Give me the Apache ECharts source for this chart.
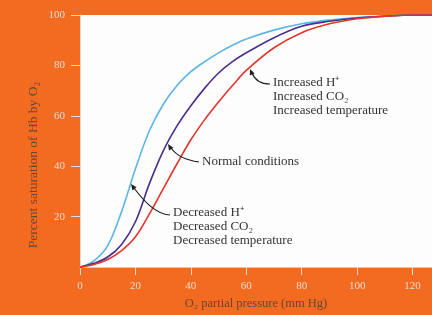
<!DOCTYPE html>
<html>
<head>
<meta charset="utf-8">
<style>
    html, body { margin: 0; padding: 0; background: #F26B21; }
    #chart { width: 432px; height: 315px; }
</style>
<script src="https://cdn.jsdelivr.net/npm/echarts@6/dist/echarts.min.js"></script>
</head>
<body>
<div id="chart"></div>
<script>
// O2 partial pressure (mm Hg)
var pressure = [0, 5, 10, 15, 20, 25, 30, 35, 40, 45, 50, 55, 60, 70, 80, 90, 100, 110, 120, 127];
// percent saturation
var decreased = [0, 2.5, 8.5, 22, 39, 54, 64.5, 72, 77.5, 81.5, 85, 88, 90.5, 94, 96.5, 98, 99, 99.6, 100, 100];
var normal = [0, 1.5, 4, 9, 18, 33, 46, 56, 64, 71, 77, 81.5, 85, 91, 95.5, 97.5, 98.8, 99.5, 100, 100];
var increased = [0, 1, 3, 6.5, 12, 21, 31, 41, 50.5, 58.5, 65.5, 72, 78, 87, 93, 96.5, 98.5, 99.5, 100, 100];

function pairs(ys) {
    return pressure.map(function (x, i) { return [x, ys[i]]; });
}

var myChart = echarts.init(document.getElementById('chart'));
var serif = 'Liberation Serif';
var tickColor = '#eadbd2';
var nameColor = '#6b4634';
var noteColor = '#333';

function arrowHead(x, y, ang) {
    // small triangle pointing in direction ang
    var l = 6, w = 2.6;
    var bx = x - l * Math.cos(ang), by = y - l * Math.sin(ang);
    var px = -Math.sin(ang) * w, py = Math.cos(ang) * w;
    return {
        type: 'polygon',
        shape: {points: [[x, y], [bx + px, by + py], [bx - px, by - py]]},
        style: {fill: '#222'},
        z: 10
    };
}

function note(x, y, lines) {
    return {
        type: 'text',
        left: x,
        top: y,
        style: {
            text: lines.join('\n'),
            font: '13px "' + serif + '"',
            fill: noteColor,
            lineHeight: 14
        },
        z: 10
    };
}

function curve(name, ys, color) {
    return {
        name: name,
        type: 'line',
        data: pairs(ys),
        smooth: 0.35,
        showSymbol: false,
        lineStyle: {color: color, width: 1.6}
    };
}

option = {
    backgroundColor: '#F26B21',
    animation: false,
    grid: {
        left: 80,
        right: 0,
        top: 15,
        bottom: 42,
        show: true,
        backgroundColor: '#fdfdfe',
        borderWidth: 0
    },
    xAxis: {
        type: 'value',
        min: 0,
        max: 127,
        interval: 20,
        name: 'O₂ partial pressure (mm Hg)',
        nameLocation: 'middle',
        nameGap: 27,
        nameTextStyle: {fontFamily: serif, fontSize: 12.5, color: nameColor},
        axisLine: {lineStyle: {color: '#d9c9c0', width: 1}},
        axisTick: {length: 8, lineStyle: {color: tickColor}},
        axisLabel: {
            margin: 14,
            fontFamily: serif,
            fontSize: 11,
            color: tickColor,
            showMaxLabel: false
        },
        splitLine: {show: false}
    },
    yAxis: {
        type: 'value',
        min: 0,
        max: 100,
        interval: 20,
        axisLine: {show: true, lineStyle: {color: '#e4d8d2', width: 1}},
        axisTick: {show: true, length: 9, lineStyle: {color: tickColor}},
        axisLabel: {
            margin: 15,
            fontFamily: serif,
            fontSize: 11,
            color: tickColor,
            showMinLabel: false
        },
        splitLine: {show: false}
    },
    series: [
        curve('Decreased', decreased, '#5cb5e6'),
        curve('Normal', normal, '#4a2d8c'),
        curve('Increased', increased, '#e2352c')
    ],
    graphic: [
        {
            type: 'text',
            x: 33,
            y: 165,
            rotation: Math.PI / 2,
            style: {
                text: 'Percent saturation of Hb by O₂',
                font: '13.5px "' + serif + '"',
                fill: nameColor,
                align: 'center',
                verticalAlign: 'middle'
            }
        },
        // increased
        {
            type: 'bezierCurve',
            shape: {x1: 270, y1: 84, x2: 252, y2: 73, cpx1: 258, cpy1: 84, cpx2: 254, cpy2: 78},
            style: {stroke: '#222', lineWidth: 1.2, fill: null},
            z: 10
        },
        arrowHead(250, 69, -Math.PI * 0.62),
        note(273, 76, ['Increased H⁺', 'Increased CO₂', 'Increased temperature']),
        // normal
        {
            type: 'bezierCurve',
            shape: {x1: 199, y1: 162, x2: 171, y2: 148, cpx1: 185, cpy1: 160, cpx2: 176, cpy2: 155},
            style: {stroke: '#222', lineWidth: 1.2, fill: null},
            z: 10
        },
        arrowHead(168, 144, -Math.PI * 0.68),
        note(202, 155, ['Normal conditions']),
        // decreased
        {
            type: 'bezierCurve',
            shape: {x1: 170, y1: 215, x2: 134, y2: 188, cpx1: 155, cpy1: 214, cpx2: 143, cpy2: 200},
            style: {stroke: '#222', lineWidth: 1.2, fill: null},
            z: 10
        },
        arrowHead(131, 184, -Math.PI * 0.7),
        note(173, 206, ['Decreased H⁺', 'Decreased CO₂', 'Decreased temperature'])
    ]
};
myChart.setOption(option);
</script>
</body>
</html>
